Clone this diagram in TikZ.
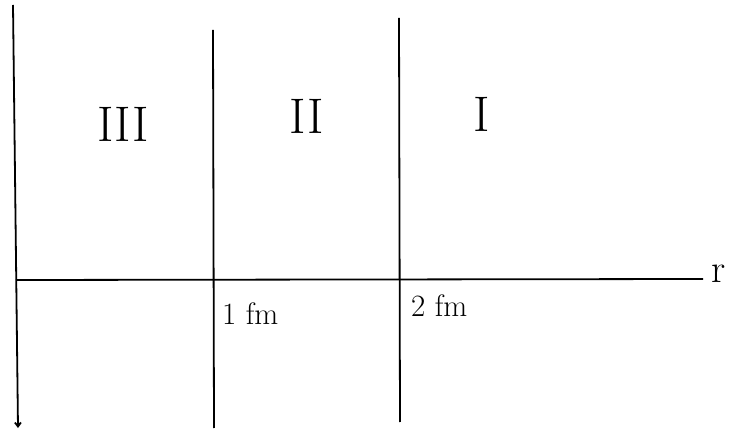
\documentclass[tikz,border=0pt]{standalone}
\usepackage{fontspec}
\usetikzlibrary{arrows.meta}
\begin{document}
\begin{tikzpicture}[x=1pt,y=-1pt,
  line/.style={line width=1.8pt,black},
  roman/.style={font=\fontsize{50}{50}\selectfont,inner sep=0pt},
  lab/.style={font=\fontsize{31}{31}\selectfont,inner sep=0pt,anchor=west}]
\useasboundingbox (0,0) rectangle (734,430);
% vertical lines
\coordinate (l1t) at (13,5);
\coordinate (l1b) at (18,428);
\coordinate (l2t) at (213,30);
\coordinate (l2b) at (214,428);
\coordinate (l3t) at (399,18);
\coordinate (l3b) at (400,422);
\coordinate (ax0) at (16,280);
\coordinate (ax1) at (703,279);
\draw[line,-{Straight Barb[length=4pt,width=6pt]}] (l1t) -- (l1b);
\draw[line] (l2t) -- (l2b);
\draw[line] (l3t) -- (l3b);
\draw[line] (ax0) -- (ax1);
\node[inner sep=0pt,font=\fontsize{40}{40}\selectfont] (r) at (719,274) {r};
% region labels
\node[roman] (n3) at (123,124) {III};
\node[roman] (n2) at (307,116) {II};
\node[roman] (n1) at (482,114) {I};
% tick labels
\node[lab] (f1) at (222,314) {1 fm};
\node[lab] (f2) at (411,306) {2 fm};
\end{tikzpicture}
\end{document}
